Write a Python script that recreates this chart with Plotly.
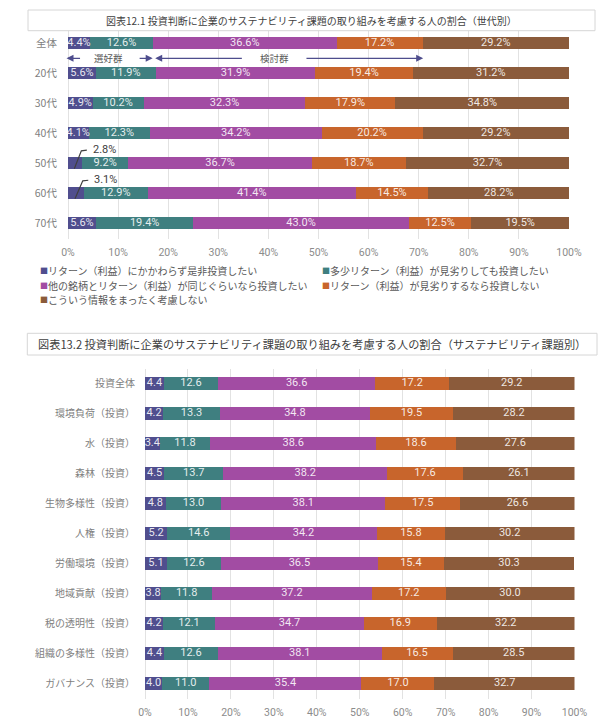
import plotly.graph_objects as go

W, H = 605, 725

series_names = [
    "リターン（利益）にかかわらず是非投資したい",
    "多少リターン（利益）が見劣りしても投資したい",
    "他の銘柄とリターン（利益）が同じぐらいなら投資したい",
    "リターン（利益）が見劣りするなら投資しない",
    "こういう情報をまったく考慮しない",
]
series_colors = ["#504e8e", "#3f7f80", "#a24ca3", "#c8652c", "#8b5b3b"]

gen_title = "図表12.1 投資判断に企業のサステナビリティ課題の取り組みを考慮する人の割合（世代別）"
gen_categories = ["全体", "20代", "30代", "40代", "50代", "60代", "70代"]
gen_s1 = [4.4, 5.6, 4.9, 4.1, 2.8, 3.1, 5.6]
gen_s2 = [12.6, 11.9, 10.2, 12.3, 9.2, 12.9, 19.4]
gen_s3 = [36.6, 31.9, 32.3, 34.2, 36.7, 41.4, 43.0]
gen_s4 = [17.2, 19.4, 17.9, 20.2, 18.7, 14.5, 12.5]
gen_s5 = [29.2, 31.2, 34.8, 29.2, 32.7, 28.2, 19.5]

topic_title = "図表13.2 投資判断に企業のサステナビリティ課題の取り組みを考慮する人の割合（サステナビリティ課題別）"
topic_categories = ["投資全体", "環境負荷（投資）", "水（投資）", "森林（投資）", "生物多様性（投資）",
                    "人権（投資）", "労働環境（投資）", "地域貢献（投資）", "税の透明性（投資）",
                    "組織の多様性（投資）", "ガバナンス（投資）"]
topic_s1 = [4.4, 4.2, 3.4, 4.5, 4.8, 5.2, 5.1, 3.8, 4.2, 4.4, 4.0]
topic_s2 = [12.6, 13.3, 11.8, 13.7, 13.0, 14.6, 12.6, 11.8, 12.1, 12.6, 11.0]
topic_s3 = [36.6, 34.8, 38.6, 38.2, 38.1, 34.2, 36.5, 37.2, 34.7, 38.1, 35.4]
topic_s4 = [17.2, 19.5, 18.6, 17.6, 17.5, 15.8, 15.4, 17.2, 16.9, 16.5, 17.0]
topic_s5 = [29.2, 28.2, 27.6, 26.1, 26.6, 30.2, 30.3, 30.0, 32.2, 28.5, 32.7]

pct_ticks = list(range(0, 101, 10))
pct_ticktext = [f"{t}%" for t in pct_ticks]

CJK = "Noto Sans CJK JP"
NUM = "Roboto"
LABEL_TXT = "rgba(255,255,255,0.88)"


def px_x(p):
    return p / W


def px_y(p):
    return 1 - p / H


fig = go.Figure()


def add_stack(series, cats, xa, ya, width, fmt, small_cut):
    n = len(cats)
    ypos = list(range(n))
    left = [0.0] * n
    for vals, name, col in zip(series, series_names, series_colors):
        fig.add_trace(go.Bar(
            orientation="h", x=vals, y=ypos, name=name, width=width,
            marker=dict(color=col, line=dict(width=0)),
            xaxis=xa, yaxis=ya, showlegend=False, hoverinfo="x+name"))
        mids = [l + v / 2 for l, v in zip(left, vals)]
        texts = [fmt(v) if v >= small_cut else "" for v in vals]
        fig.add_trace(go.Scatter(
            x=mids, y=ypos, mode="text", text=texts,
            textfont=dict(family=NUM, size=11, color=LABEL_TXT),
            xaxis=xa, yaxis=ya, showlegend=False, hoverinfo="skip"))
        left = [l + v for l, v in zip(left, vals)]


gen_series = [gen_s1, gen_s2, gen_s3, gen_s4, gen_s5]
topic_series = [topic_s1, topic_s2, topic_s3, topic_s4, topic_s5]

add_stack(gen_series, gen_categories, "x", "y", 0.4, lambda v: f"{v:.1f}%", 3.5)
add_stack(topic_series, topic_categories, "x2", "y2", 0.42, lambda v: f"{v:.1f}", 0)

axis_common = dict(
    range=[0, 100], tickvals=pct_ticks, ticktext=pct_ticktext,
    showgrid=True, gridcolor="#e2e2e2", gridwidth=1,
    zeroline=True, zerolinecolor="#e2e2e2", zerolinewidth=1,
    showline=False, ticks="outside", tickcolor="rgba(0,0,0,0)",
    tickfont=dict(family=NUM, size=10.5, color="#8c8c8c"), fixedrange=True,
    automargin=False,
)

fig.update_layout(
    width=W, height=H, margin=dict(l=0, r=0, t=0, b=0, pad=0), autosize=False,
    paper_bgcolor="white", plot_bgcolor="white",
    barmode="stack", showlegend=False,
    font=dict(family=CJK),
    xaxis=dict(domain=[px_x(68), px_x(569)], anchor="y", ticklen=4, **axis_common),
    yaxis=dict(domain=[px_y(238.5), px_y(28.3)], anchor="x", range=[6.5, -0.5],
               tickvals=list(range(len(gen_categories))), ticktext=gen_categories,
               showgrid=False, zeroline=False, ticks="outside", ticklen=8,
               tickcolor="rgba(0,0,0,0)", automargin=False,
               tickfont=dict(family=CJK, size=10.5, color="#7f7f7f"), fixedrange=True),
    xaxis2=dict(domain=[px_x(145), px_x(574.5)], anchor="y2", ticklen=4, **axis_common),
    yaxis2=dict(domain=[px_y(698.7), px_y(368.7)], anchor="x2", range=[10.5, -0.5],
                tickvals=list(range(len(topic_categories))), ticktext=topic_categories,
                showgrid=False, zeroline=False, ticks="outside", ticklen=7,
                tickcolor="rgba(0,0,0,0)", automargin=False,
                tickfont=dict(family=CJK, size=10, color="#7f7f7f"), fixedrange=True),
)

shapes = []
annotations = []

# title boxes
for (x0, y0, x1, y1), title, size in [((28, 10, 595, 30.7), gen_title, 10),
                                       ((27.3, 333.3, 597, 355), topic_title, 11.2)]:
    shapes.append(dict(type="rect", xref="paper", yref="paper",
                       x0=px_x(x0), x1=px_x(x1), y0=px_y(y1), y1=px_y(y0),
                       line=dict(color="#d6d6d6", width=1), fillcolor="white", layer="above"))
    annotations.append(dict(xref="paper", yref="paper", x=px_x((x0 + x1) / 2), y=px_y((y0 + y1) / 2),
                            text=title, showarrow=False, xanchor="center", yanchor="middle",
                            font=dict(family=CJK, size=size, color="#404040")))

# group arrows (選好群 / 検討群) derived from the 全体 row
pref_end = gen_s1[0] + gen_s2[0]
cons_end = pref_end + gen_s3[0] + gen_s4[0]
arrow_col = "#4e4d8d"
ya = 0.5
arrow_specs = [
    (0 - 0.3, 2.7),
    (pref_end - 0.1, pref_end - 3.0),
    (pref_end + 0.4, pref_end + 18.0),
    (cons_end + 0.1, cons_end - 23.5),
]
for head, tail in arrow_specs:
    annotations.append(dict(xref="x", yref="y", axref="x", ayref="y",
                            x=head, y=ya, ax=tail, ay=ya, text="", showarrow=True,
                            arrowhead=2, arrowsize=1, arrowwidth=1.4, arrowcolor=arrow_col,
                            standoff=0, startstandoff=0))
annotations.append(dict(xref="x", yref="y", x=pref_end * 0.48, y=ya, text="選好群", showarrow=False,
                        font=dict(family=CJK, size=9.5, color="#595959")))
annotations.append(dict(xref="x", yref="y", x=pref_end + 0.45 * (cons_end - pref_end), y=ya,
                        text="検討群", showarrow=False,
                        font=dict(family=CJK, size=9.5, color="#595959")))

# outside labels for very small first segments
for i, v in enumerate(gen_s1):
    if v < 3.5:
        shapes.append(dict(type="path", xref="x", yref="y",
                           path=f"M {v*0.45:.3f},{i+0.18:.3f} L {v*0.95:.3f},{i-0.42:.3f} L {v*0.95+1.1:.3f},{i-0.44:.3f}",
                           line=dict(color="#404040", width=1.2)))
        annotations.append(dict(xref="x", yref="y", x=v * 0.95 + 4.6, y=i - 0.45,
                                xanchor="center", text=f"{v:.1f}%", showarrow=False,
                                font=dict(family=NUM, size=11, color="#404040")))

# legend (two columns, drawn as text)
leg_pos = [(39.3, 270), (321, 270), (39.3, 285), (321, 285), (39.3, 300)]
for (lx, ly), name, col in zip(leg_pos, series_names, series_colors):
    annotations.append(dict(xref="paper", yref="paper", x=px_x(lx - 1), y=px_y(ly),
                            xanchor="left", yanchor="middle", text="■", showarrow=False,
                            font=dict(family=CJK, size=8, color=col)))
    annotations.append(dict(xref="paper", yref="paper", x=px_x(lx + 7), y=px_y(ly),
                            xanchor="left", yanchor="middle", text=name, showarrow=False,
                            font=dict(family=CJK, size=10, color="#595959")))

fig.update_layout(shapes=shapes, annotations=annotations)

fig.write_html("out.html", config={"displayModeBar": False},
               post_script="document.body.style.margin='0';document.body.style.padding='0';")
